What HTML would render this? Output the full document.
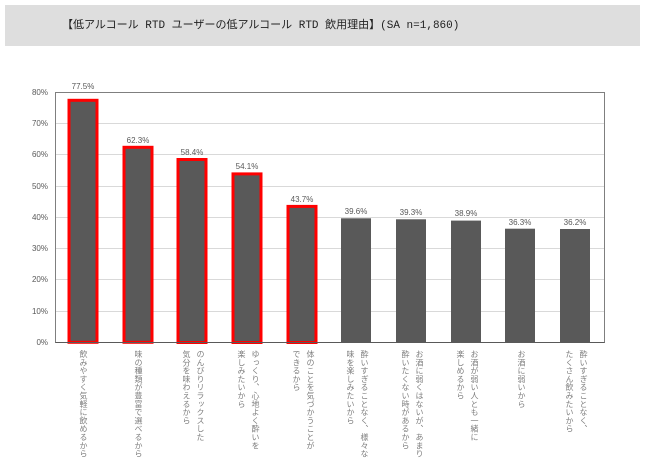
<!DOCTYPE html><html><head><meta charset="utf-8"><style>
body{margin:0;width:649px;height:470px;background:#fff;position:relative;overflow:hidden;font-family:"Liberation Sans","Noto Sans CJK JP",sans-serif}
.t{position:absolute;left:5px;top:5px;width:635px;height:41px;background:#dedede;line-height:42px;font-size:11px;color:#222;font-family:"Liberation Mono","Noto Sans CJK JP",monospace;white-space:nowrap}
.t span{position:absolute;left:57px}
.l{position:absolute;writing-mode:vertical-rl;font-size:8px;letter-spacing:0.3px;color:#7f7f7f;line-height:14px;white-space:nowrap}
</style></head><body>
<div class="t"><span>【低アルコール RTD ユーザーの低アルコール RTD 飲用理由】(SA n=1,860)</span></div>
<svg width="649" height="470" style="position:absolute;left:0;top:0" font-family="Liberation Sans, sans-serif">
<g stroke="#d9d9d9" stroke-width="1">
<line x1="56" x2="604" y1="123.5" y2="123.5"/><line x1="56" x2="604" y1="154.5" y2="154.5"/><line x1="56" x2="604" y1="186.5" y2="186.5"/><line x1="56" x2="604" y1="217.5" y2="217.5"/><line x1="56" x2="604" y1="248.5" y2="248.5"/><line x1="56" x2="604" y1="279.5" y2="279.5"/><line x1="56" x2="604" y1="311.5" y2="311.5"/>
</g>
<rect x="55.5" y="92.5" width="549" height="250" fill="none" stroke="#7f7f7f"/>
<g font-size="8" fill="#595959" text-anchor="end">
<text x="48" y="95">80%</text><text x="48" y="126">70%</text><text x="48" y="157">60%</text><text x="48" y="189">50%</text><text x="48" y="220">40%</text><text x="48" y="251">30%</text><text x="48" y="282">20%</text><text x="48" y="314">10%</text><text x="48" y="345">0%</text>
</g>
<g fill="#595959" stroke="#ff0000" stroke-width="3">
<rect x="69" y="100.3" width="28" height="242"/>
<rect x="124" y="147.3" width="28" height="195"/>
<rect x="178" y="159.5" width="28" height="183"/>
<rect x="233" y="173.9" width="28" height="168.6"/>
<rect x="288" y="206.4" width="28" height="136.1"/>
</g>
<g fill="#595959">
<rect x="341" y="218.3" width="30" height="124.2"/>
<rect x="396" y="219.3" width="30" height="123.2"/>
<rect x="451" y="220.6" width="30" height="121.9"/>
<rect x="505" y="228.7" width="30" height="113.8"/>
<rect x="560" y="229" width="30" height="113.5"/>
</g>
<line x1="55.5" x2="604.5" y1="342.5" y2="342.5" stroke="#595959"/>
<g font-size="8" fill="#595959" text-anchor="middle">
<text x="83" y="89">77.5%</text><text x="138" y="143">62.3%</text><text x="192" y="155">58.4%</text><text x="247" y="169">54.1%</text><text x="302" y="202">43.7%</text><text x="356" y="214">39.6%</text><text x="411" y="215">39.3%</text><text x="466" y="216">38.9%</text><text x="520" y="225">36.3%</text><text x="575" y="225">36.2%</text>
</g>
</svg>
<div class="l" style="left:76px;top:350px">飲みやすく気軽に飲めるから</div>
<div class="l" style="left:131px;top:350px">味の種類が豊富で選べるから</div>
<div class="l" style="left:179px;top:350px">のんびりリラックスした<br>気分を味わえるから</div>
<div class="l" style="left:234px;top:350px">ゆっくり、心地よく酔いを<br>楽しみたいから</div>
<div class="l" style="left:289px;top:350px">体のことを気づかうことが<br>できるから</div>
<div class="l" style="left:343px;top:350px">酔いすぎることなく、様々な<br>味を楽しみたいから</div>
<div class="l" style="left:398px;top:350px">お酒に弱くはないが、あまり<br>酔いたくない時があるから</div>
<div class="l" style="left:453px;top:350px">お酒が弱い人とも一緒に<br>楽しめるから</div>
<div class="l" style="left:514px;top:350px">お酒に弱いから</div>
<div class="l" style="left:562px;top:350px">酔いすぎることなく、<br>たくさん飲みたいから</div>
</body></html>
